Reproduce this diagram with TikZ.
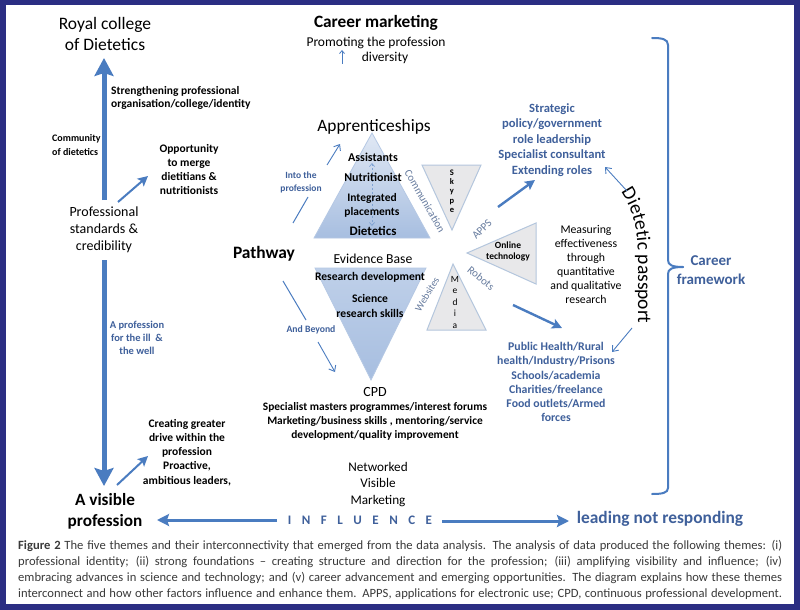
\documentclass[tikz,border=0pt]{standalone}
\usepackage{fontspec}
\setmainfont{Carlito}
\usetikzlibrary{arrows.meta,decorations.text}
\definecolor{frameblue}{HTML}{2B2E83}
\definecolor{arrowblue}{HTML}{4A7CC0}
\definecolor{txtblue}{HTML}{3F609B}
\definecolor{lblgray}{HTML}{667B9E}
\definecolor{tritop}{HTML}{E0E8F4}
\definecolor{tribot}{HTML}{A7BEE0}
\definecolor{lowtop}{HTML}{BFD0E9}
\definecolor{triline}{HTML}{B5C8E4}
\definecolor{trigray}{HTML}{E8E8EA}
\definecolor{triedge}{HTML}{B4C6DD}
\definecolor{captext}{HTML}{3A3A3A}
\newcommand{\fsz}[2]{\fontsize{#1}{#2}\selectfont}
\tikzset{
  t/.style={inner sep=0pt, align=center, text=black},
  bigarrow/.style={line width=5pt, draw=arrowblue, -{Stealth[length=18pt,width=19pt,inset=3pt]}},
  infarrow/.style={line width=3pt, draw=arrowblue, -{Stealth[length=12pt,width=12pt,inset=2pt]}},
  midarrow/.style={line width=2.4pt, draw=arrowblue, -{Stealth[length=10pt,width=10pt,inset=2pt]}},
  plainline/.style={line width=1.2pt, draw=arrowblue},
  thinarrow/.style={line width=0.9pt, draw=arrowblue, -{Straight Barb[length=5pt,width=8pt]}},
  rotlbl/.style={inner sep=0pt, text=lblgray},
  bracket/.style={line width=2pt, draw=arrowblue, line cap=round},
  captxt/.style={inner sep=0pt, anchor=west, text=captext, font=\fsz{12.6}{14}},
}
\begin{document}
\begin{tikzpicture}[x=1pt,y=-1pt]
\useasboundingbox (0,0) rectangle (800,610);
% frame
\fill[frameblue] (0,0) rectangle (800,610);
\fill[white] (6,5) rectangle (794,604);

% triangles
\shadedraw[top color=tritop, bottom color=tribot, draw=triline, line width=0.8pt]
  (372,133) -- (430,238) -- (314,238) -- cycle;
\shadedraw[top color=lowtop, middle color=tritop, bottom color=tribot, draw=triline, line width=0.8pt]
  (315,268) -- (426,268) -- (371,380) -- cycle;
\filldraw[fill=trigray, draw=triedge, line width=1pt] (422,165) -- (481,165) -- (452,230) -- cycle;
\filldraw[fill=trigray, draw=triedge, line width=1pt] (467,253) -- (536,223) -- (536,284) -- cycle;
\filldraw[fill=trigray, draw=triedge, line width=1pt] (453,264) -- (486,330) -- (427,330) -- cycle;

% dashed arrows in triangle
\coordinate (dtop) at (372,163);
\coordinate (dbot) at (372,226);
\draw[line width=0.7pt, draw=arrowblue!70, dash pattern=on 2pt off 2pt, {Straight Barb[length=3pt,width=5pt]}-{Straight Barb[length=3pt,width=5pt]}] (dtop) -- (dbot);

% left column
\node[t, font=\fsz{17.5}{21}] (royal) at (105,34) {Royal college\\of Dietetics};
\node[t, anchor=west, align=left, font=\fsz{11.5}{13.5}\bfseries] (strength) at (111,98) {Strengthening professional\\organisation/college/identity};
\node[t, anchor=west, align=left, font=\fsz{10}{14}\bfseries] (community) at (52,145.5) {Community\\of dietetics};
\node[t, font=\fsz{11.5}{14.2}\bfseries] (opport) at (189,169.5) {Opportunity\\to merge\\dietitians \&\\nutritionists};
\node[t, font=\fsz{14}{17}] (profstd) at (104,230) {Professional\\standards \&\\credibility};
\node[t, text=txtblue, font=\fsz{10.5}{12.8}\bfseries] (illwell) at (137,338) {A profession\\for the ill \ \&\\the well};
\node[t, font=\fsz{11.5}{14.2}\bfseries] (creating) at (187,452.5) {Creating greater\\drive within the\\profession\\Proactive,\\ambitious leaders,};
\node[t, font=\fsz{17.2}{21}\bfseries] (visible) at (105,511) {A visible\\profession};

\coordinate (upstart) at (104,200);
\coordinate (uptip) at (104,58);
\draw[bigarrow] (upstart) -- (uptip);
\coordinate (dnstart) at (104,260);
\coordinate (dntip) at (104,486);
\draw[bigarrow] (dnstart) -- (dntip);
\coordinate (oppA) at (118,202);
\coordinate (oppB) at (148,176);
\draw[midarrow, line width=2pt] (oppA) -- (oppB);
\coordinate (creA) at (117,485);
\coordinate (creB) at (148,456);
\draw[midarrow, line width=2pt] (creA) -- (creB);

% top middle
\node[t, font=\fsz{17.3}{20}\bfseries] (careermk) at (376,23) {Career marketing};
\node[t, font=\fsz{13.5}{16}] (promoting) at (376,43) {Promoting the profession};
\node[t, font=\fsz{13.5}{16}] (diversity) at (385,58) {diversity};
\coordinate (divA) at (342,64);
\coordinate (divB) at (342,50);
\draw[line width=0.8pt, draw=arrowblue, -{Straight Barb[length=3pt,width=5pt]}] (divA) -- (divB);

% apprenticeship triangle texts
\node[t, font=\fsz{17.4}{20}] (appr) at (374,127) {Apprenticeships};
\node[t, font=\fsz{12}{14}\bfseries] (assist) at (373,157) {Assistants};
\node[t, font=\fsz{12}{14}\bfseries] (nutri) at (373,177) {Nutritionist};
\node[t, font=\fsz{11.5}{13.5}\bfseries] (integ) at (372,205.5) {Integrated\\placements};
\node[t, font=\fsz{13}{15}\bfseries] (diet) at (373,231) {Dietetics};

\node[t, text=txtblue, font=\fsz{9.5}{13}\bfseries] (into) at (301,182) {Into the\\profession};
\coordinate (intoA) at (293,223);
\coordinate (intoB) at (308,197);
\draw[plainline, line width=1pt] (intoA) -- (intoB);
\coordinate (intoC) at (327,165);
\coordinate (intoD) at (340,144);
\draw[thinarrow] (intoC) -- (intoD);

\node[t, font=\fsz{17.4}{20}\bfseries] (pathway) at (264,254) {Pathway};

% evidence base
\node[t, font=\fsz{13.7}{16}] (evid) at (373,259) {Evidence Base};
\node[t, font=\fsz{11.6}{14}\bfseries] (resdev) at (370,277) {Research development};
\node[t, font=\fsz{11.6}{15}\bfseries] (science) at (370,305.5) {Science\\research skills};

\node[t, text=txtblue, font=\fsz{9.7}{12}\bfseries] (beyond) at (311,330) {And Beyond};
\coordinate (bA) at (283,281);
\coordinate (bB) at (306,320);
\draw[plainline, line width=1pt] (bA) -- (bB);
\coordinate (bC) at (318,342);
\coordinate (bD) at (335,372);
\draw[thinarrow] (bC) -- (bD);

% CPD
\node[t, font=\fsz{14}{16}] (cpd) at (375,392) {CPD};
\node[t, font=\fsz{11.4}{13.7}\bfseries] (cpdtxt) at (375,421.5) {Specialist masters programmes/interest forums\\Marketing/business skills , mentoring/service\\development/quality improvement};
\node[t, font=\fsz{13.2}{16.4}] (netw) at (378,484.5) {Networked\\Visible\\Marketing};

% technology triangles
\node[t, font=\fsz{8.5}{9.3}\bfseries] (skype) at (452,191) {S\\k\\y\\p\\e};
\node[t, font=\fsz{9.5}{11}\bfseries] (online) at (508,251.5) {Online\\technology};
\node[t, font=\fsz{9.5}{11.5}] (media) at (455,302) {M\\e\\d\\i\\a};
\node[rotlbl, rotate=-60, font=\fsz{10.9}{12}] (comm) at (425,201) {Communication};
\node[rotlbl, rotate=45, font=\fsz{11}{12}] (apps) at (482,229) {APPS};
\node[rotlbl, rotate=-39, font=\fsz{11}{12}] (robots) at (481,278) {Robots};
\node[rotlbl, rotate=59, font=\fsz{10.2}{12}] (webs) at (427,294) {Websites};

% right side
\node[t, text=txtblue, font=\fsz{12.6}{15.4}\bfseries] (strategic) at (552,140) {Strategic\\policy/government\\role leadership\\Specialist consultant\\Extending roles};
\coordinate (sA) at (498,207);
\coordinate (sB) at (535,180);
\draw[midarrow] (sA) -- (sB);
\node[t, font=\fsz{11.8}{14}] (measuring) at (586,264) {Measuring\\effectiveness\\through\\quantitative\\and qualitative\\research};
\coordinate (mA) at (513,305);
\coordinate (mB) at (562,328);
\draw[midarrow] (mA) -- (mB);
\node[t, text=txtblue, font=\fsz{11.8}{14.2}\bfseries] (public) at (556,382) {Public Health/Rural\\health/Industry/Prisons\\Schools/academia\\Charities/freelance\\Food outlets/Armed\\forces};

% dietetic passport
\path[decorate, decoration={text along path, text align=left, text={|\fsz{19.5}{22}|Dietetic passport}}]
  (621,192) .. controls (632,208) and (638,228) .. (638,258) -- (638,345);
\coordinate (pA) at (627,191);
\coordinate (pB) at (605,167);
\draw[thinarrow] (pA) -- (pB);
\coordinate (pC) at (632,328);
\coordinate (pD) at (612,352);
\draw[thinarrow] (pC) -- (pD);

% bracket
\draw[bracket] (652,38) .. controls (662,38) and (668,39) .. (668,45) -- (668,260)
  .. controls (668,265) and (672,267) .. (683,267);
\draw[bracket] (683,267) .. controls (672,267) and (668,269) .. (668,274) -- (668,488)
  .. controls (668,493) and (662,494) .. (652,494);
\node[t, text=txtblue, font=\fsz{15}{19}\bfseries] (careerfw) at (711,270) {Career\\framework};

% influence
\node[t, text=txtblue, font=\fsz{13}{15}\bfseries] (influence) at (360,520)
  {I\hspace{10.5pt}N\hspace{10.5pt}F\hspace{10.5pt}L\hspace{10.5pt}U\hspace{10.5pt}E\hspace{10.5pt}N\hspace{10.5pt}C\hspace{10.5pt}E};
\node[t, text=txtblue, font=\fsz{17.4}{20}\bfseries] (leading) at (660,519) {leading not responding};
\coordinate (iLs) at (277,520);
\coordinate (iLe) at (157,520);
\draw[infarrow] (iLs) -- (iLe);
\coordinate (iRs) at (442,521);
\coordinate (iRe) at (569,521);
\draw[infarrow] (iRs) -- (iRe);

% caption
\node[captxt] (cap1) at (18,546) {\hbox to 764pt{\textbf{Figure 2} The five themes and their interconnectivity that emerged from the data analysis. The analysis of data produced the following themes: (i)}};
\node[captxt] (cap2) at (18,562) {\hbox to 764pt{professional identity; (ii) strong foundations – creating structure and direction for the profession; (iii) amplifying visibility and influence; (iv)}};
\node[captxt] (cap3) at (18,578) {\hbox to 764pt{embracing advances in science and technology; and (v) career advancement and emerging opportunities. The diagram explains how these themes}};
\node[captxt] (cap4) at (18,594) {\hbox to 764pt{interconnect and how other factors influence and enhance them. APPS, applications for electronic use; CPD, continuous professional development.}};
\end{tikzpicture}
\end{document}
